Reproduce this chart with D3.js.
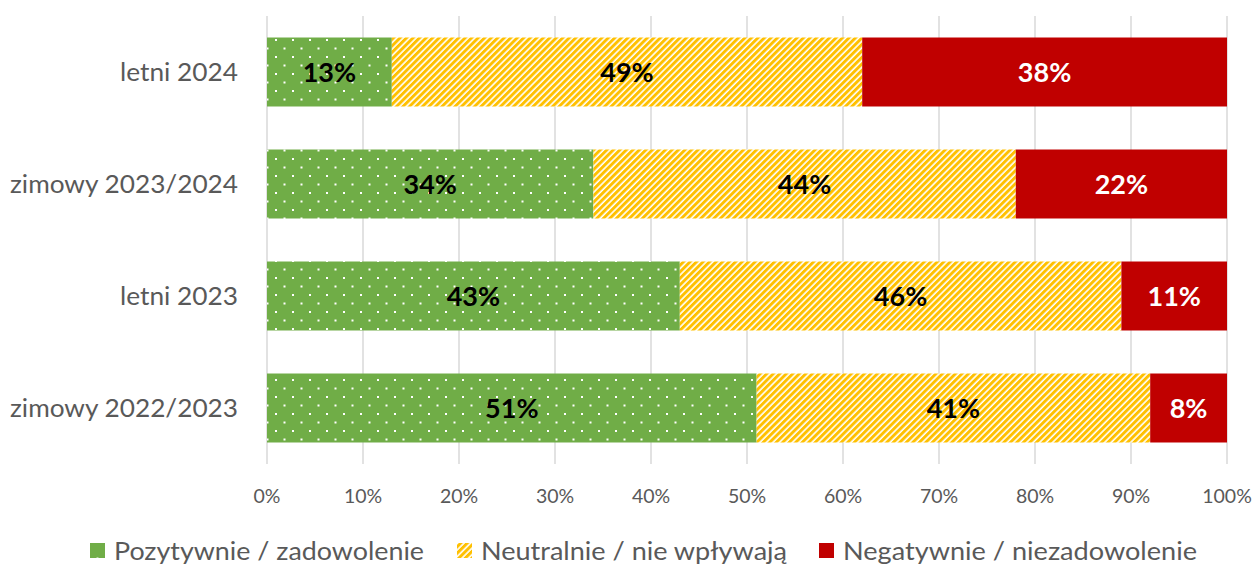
<!DOCTYPE html>
<html><head><meta charset="utf-8">
<script src="https://cdn.jsdelivr.net/npm/d3@7"></script>
<style>body{margin:0;background:#fff;} svg{display:block;}</style>
</head><body>
<svg id="c" width="1257" height="565"></svg>
<script>
const categories = ["letni 2024", "zimowy 2023/2024", "letni 2023", "zimowy 2022/2023"];
const seriesNames = ["Pozytywnie / zadowolenie", "Neutralnie / nie wpływają", "Negatywnie / niezadowolenie"];
const positive = [13, 34, 43, 51];
const neutral = [49, 44, 46, 41];
const negative = [38, 22, 11, 8];
const xTicks = [0, 10, 20, 30, 40, 50, 60, 70, 80, 90, 100];

const FONT = "Lato, 'Open Sans', sans-serif";
const svg = d3.select("#c");
const defs = svg.append("defs");

// dotted green pattern
const pd = defs.append("pattern").attr("id", "dots").attr("patternUnits", "userSpaceOnUse")
  .attr("width", 17).attr("height", 17).attr("x", 275).attr("y", 39);
pd.append("rect").attr("width", 17).attr("height", 17).attr("fill", "#70AD47");
pd.append("rect").attr("x", 0).attr("y", 0).attr("width", 2).attr("height", 2).attr("fill", "#fff");
pd.append("rect").attr("x", 8.5).attr("y", 8.5).attr("width", 2).attr("height", 2).attr("fill", "#fff");

// hatched yellow pattern
const ph = defs.append("pattern").attr("id", "hatch").attr("patternUnits", "userSpaceOnUse")
  .attr("width", 4.6).attr("height", 10).attr("patternTransform", "rotate(45)");
ph.append("rect").attr("width", 4.6).attr("height", 10).attr("fill", "#fff");
ph.append("rect").attr("width", 3).attr("height", 10).attr("fill", "#FFC000");

const fills = ["url(#dots)", "url(#hatch)", "#C00000"];
const labelColors = ["#000", "#000", "#fff"];

const plotTop = 16, plotBottom = 464;
const x = d3.scaleLinear().domain([0, 100]).range([267, 1227]);
const y = d3.scaleBand().domain(categories).range([plotTop, plotBottom]).paddingInner(0.384).paddingOuter(0.192);

// gridlines
svg.append("g").selectAll("line").data(xTicks).join("line")
  .attr("x1", d => x(d)).attr("x2", d => x(d))
  .attr("y1", plotTop).attr("y2", plotBottom)
  .attr("stroke", "#d9d9d9").attr("stroke-width", 1.5);

// tick labels
svg.append("g").selectAll("text").data(xTicks).join("text")
  .attr("x", d => x(d)).attr("y", 503)
  .attr("text-anchor", "middle").attr("font-family", FONT).attr("font-size", 19.5)
  .attr("fill", "#595959").text(d => d + "%");

// category labels
const catW = {"letni 2024": 118, "zimowy 2023/2024": 228, "letni 2023": 118, "zimowy 2022/2023": 228};
svg.append("g").selectAll("text").data(categories).join("text")
  .attr("x", 238).attr("y", d => y(d) + y.bandwidth() / 2)
  .attr("dy", "0.36em").attr("text-anchor", "end")
  .attr("font-family", FONT).attr("font-size", 25.5).attr("fill", "#595959")
  .attr("textLength", d => catW[d]).attr("lengthAdjust", "spacingAndGlyphs").text(d => d);

const rows = categories.map((c, i) => ({cat: c, vals: [positive[i], neutral[i], negative[i]]}));
const segs = [];
rows.forEach(r => {
  let acc = 0;
  r.vals.forEach((v, k) => { segs.push({cat: r.cat, k, v, x0: acc, x1: acc + v}); acc += v; });
});

svg.append("g").selectAll("rect").data(segs).join("rect")
  .attr("x", d => x(d.x0)).attr("width", d => x(d.x1) - x(d.x0))
  .attr("y", d => y(d.cat)).attr("height", y.bandwidth())
  .attr("fill", d => fills[d.k]);

svg.append("g").selectAll("text").data(segs).join("text")
  .attr("x", d => (x(d.x0) + x(d.x1)) / 2)
  .attr("y", d => y(d.cat) + y.bandwidth() / 2)
  .attr("dy", "0.36em").attr("text-anchor", "middle")
  .attr("font-family", FONT).attr("font-weight", "bold").attr("font-size", 27)
  .attr("fill", d => labelColors[d.k]).text(d => d.v + "%");

// legend
const legX = [90, 457, 819];
const legTextW = [310, 306, 354];
const lg = svg.append("g");
seriesNames.forEach((n, i) => {
  lg.append("rect").attr("x", legX[i]).attr("y", 543).attr("width", 15).attr("height", 15).attr("fill", fills[i]);
  lg.append("text").attr("x", legX[i] + 24).attr("y", 551).attr("dy", "0.36em")
    .attr("font-family", FONT).attr("font-size", 25).attr("fill", "#595959")
    .attr("textLength", legTextW[i]).attr("lengthAdjust", "spacingAndGlyphs").text(n);
});
</script>
</body></html>
